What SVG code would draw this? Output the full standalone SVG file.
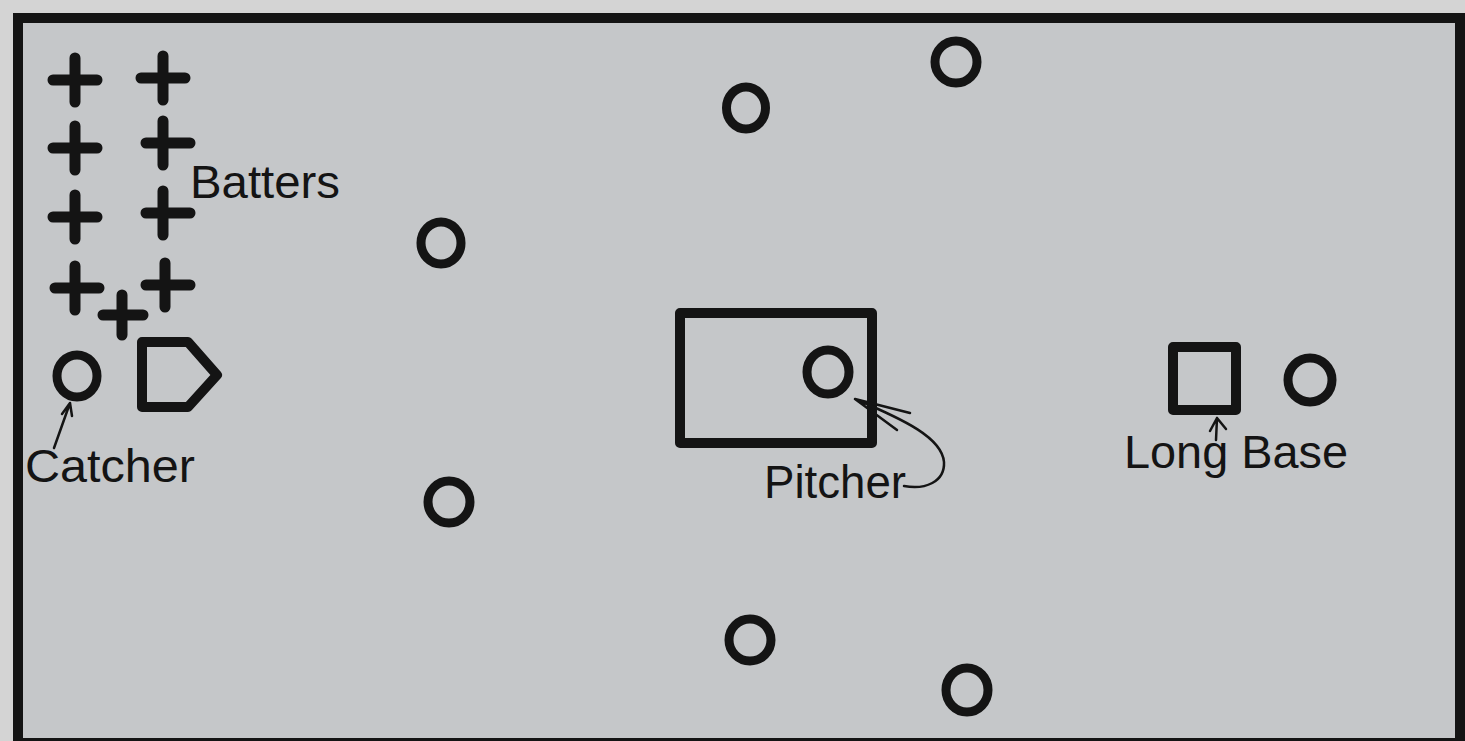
<svg xmlns="http://www.w3.org/2000/svg" width="1465" height="741" viewBox="0 0 1465 741">
<style>
.ink{fill:none;stroke:#141414;stroke-linejoin:round;stroke-linecap:round}
.o{stroke-width:9}
.box{stroke-width:10}
.plus{stroke-width:11}
.thin{stroke-width:2.5}
.lbl{font-family:"Liberation Sans",Arial,sans-serif;fill:#141414;font-size:46px}
</style>
<rect x="0" y="0" width="1465" height="741" fill="#d4d4d4"/>
<rect x="18" y="18" width="1442" height="725" fill="#c5c7c9" stroke="#141414" stroke-width="10"/>
<g id="batters">
<path class="ink plus" d="M53,80h44M75,58v44"/>
<path class="ink plus" d="M141,78h44M163,56v44"/>
<path class="ink plus" d="M53,148h44M75,126v44"/>
<path class="ink plus" d="M146,143h44M163,121v44"/>
<path class="ink plus" d="M53,217h44M75,195v44"/>
<path class="ink plus" d="M146,213h44M163,191v44"/>
<path class="ink plus" d="M55,288h44M75,266v44"/>
<path class="ink plus" d="M146,285h44M165,263v44"/>
<path class="ink plus" d="M103,315h40M122,295v40"/>
<text class="lbl" x="190" y="198" textLength="150" lengthAdjust="spacingAndGlyphs">Batters</text>
</g>
<g id="catcher">
<ellipse class="ink o" cx="77" cy="376" rx="20" ry="21"/>
<text class="lbl" x="25" y="482" textLength="170" lengthAdjust="spacingAndGlyphs">Catcher</text>
</g>
<g id="home-plate">
<path class="ink box" d="M142,342H188L217,375L188,407H142Z"/>
</g>
<g id="pitcher-box">
<rect class="ink box" x="680" y="313" width="192" height="130"/>
</g>
<g id="pitcher">
<ellipse class="ink o" cx="828" cy="372" rx="21" ry="22"/>
<text class="lbl" x="764" y="498" textLength="142" lengthAdjust="spacingAndGlyphs">Pitcher</text>
</g>
<g id="long-base">
<rect class="ink box" x="1173" y="347" width="63" height="63"/>
<text class="lbl" x="1124" y="468" textLength="224" lengthAdjust="spacingAndGlyphs">Long Base</text>
</g>
<g id="fielder-right"><ellipse class="ink o" cx="1310" cy="380" rx="22" ry="22"/></g>
<g id="fielder-1"><ellipse class="ink o" cx="956" cy="62" rx="21" ry="21"/></g>
<g id="fielder-2"><ellipse class="ink o" cx="746" cy="108" rx="19.5" ry="21"/></g>
<g id="fielder-3"><ellipse class="ink o" cx="441" cy="243" rx="20" ry="21"/></g>
<g id="fielder-4"><ellipse class="ink o" cx="449" cy="502" rx="21" ry="21"/></g>
<g id="fielder-5"><ellipse class="ink o" cx="750" cy="640" rx="21" ry="21"/></g>
<g id="fielder-6"><ellipse class="ink o" cx="967" cy="690" rx="21" ry="22"/></g>
<g id="connectors">
<path class="ink thin" d="M54,448L70,403M70,403L62,414M70,403L72,416"/>
<path class="ink thin" d="M904,486C925,490 945,482 944,462C942,438 905,420 855,399M855,399L910,413M855,399L897,430"/>
<path class="ink thin" d="M1216,440L1217,418M1217,418L1210,431M1217,418L1226,429"/>
</g>
</svg>
